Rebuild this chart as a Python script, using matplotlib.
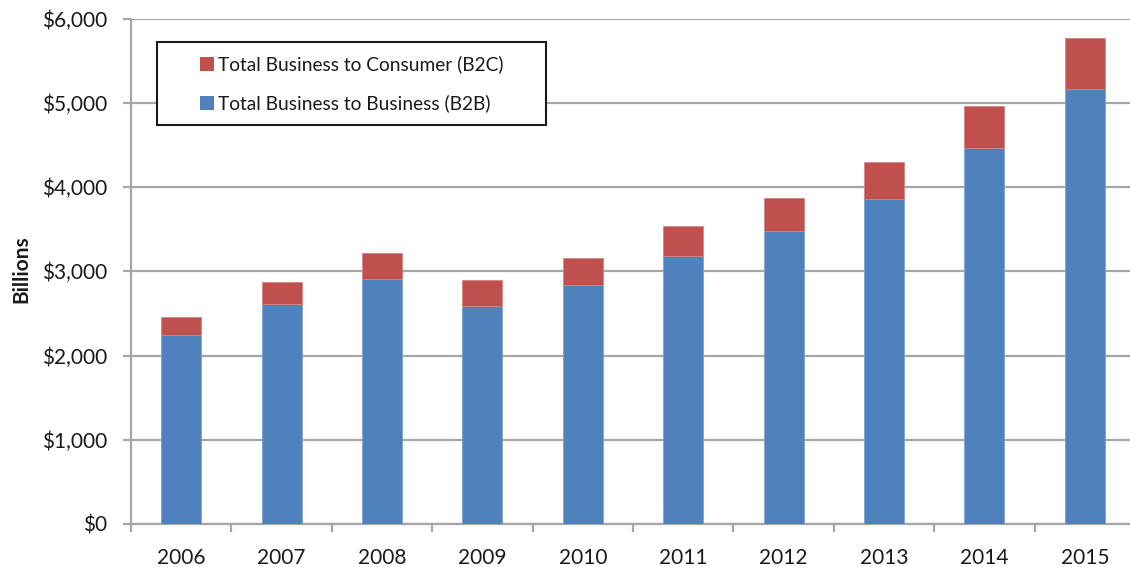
import matplotlib
matplotlib.use("Agg")
import matplotlib.pyplot as plt
from matplotlib.patches import Rectangle
from matplotlib.ticker import FuncFormatter, FixedLocator
import numpy as np

years = ["2006", "2007", "2008", "2009", "2010", "2011", "2012", "2013", "2014", "2015"]
b2b = [2243, 2608, 2908, 2591, 2837, 3181, 3478, 3854, 4459, 5160]
b2c = [218, 268, 305, 305, 316, 360, 395, 439, 502, 605]
yticks = [0, 1000, 2000, 3000, 4000, 5000, 6000]

BLUE = "#4F81BD"
RED = "#C0504D"
GRID = "#A6A6A6"

plt.rcParams["font.family"] = ["Lato", "DejaVu Sans"]

fig = plt.figure(figsize=(11.3, 5.67), dpi=100)
W, H = 1130, 567
ax = fig.add_axes([131 / W, 43 / H, (1135 - 131) / W, (524 - 18.5) / H])

x = np.arange(len(years))
ax.bar(x, b2b, width=0.4, color=BLUE, edgecolor="#7FA3D0", linewidth=0.6, zorder=3)
ax.bar(x, b2c, bottom=b2b, width=0.4, color=RED, edgecolor="#D48683", linewidth=0.6, zorder=3)

ax.set_xlim(-0.5, len(years) - 0.5)
ax.set_ylim(0, 6000)
ax.set_yticks(yticks)
ax.yaxis.set_major_formatter(FuncFormatter(lambda v, p: f"${v:,.0f}"))
ax.set_xticks(x)
ax.set_xticklabels(years)
ax.xaxis.set_minor_locator(FixedLocator(np.arange(len(years) + 1) - 0.5))

ax.grid(axis="y", color=GRID, linewidth=1.6, zorder=0)
ax.set_axisbelow(True)
for s in ["top", "right"]:
    ax.spines[s].set_visible(False)
for s in ["left", "bottom"]:
    ax.spines[s].set_color(GRID)
    ax.spines[s].set_linewidth(1.6)

ax.tick_params(axis="y", which="major", length=6, width=1.6, color=GRID,
               pad=11, labelsize=15, labelcolor="#1a1a1a")
ax.tick_params(axis="x", which="major", length=0, pad=17, labelsize=15,
               labelcolor="#1a1a1a")
ax.tick_params(axis="x", which="minor", length=6, width=1.6, color=GRID)

fig.text(21 / W, 1 - 269 / H, "Billions", rotation=90, ha="center", va="center",
         fontsize=15, fontweight="bold", color="#1a1a1a")

# legend box
fig.patches.append(Rectangle((157 / W, 1 - 125 / H), (546 - 157) / W, (125 - 42) / H,
                             transform=fig.transFigure, facecolor="white",
                             edgecolor="#1a1a1a", linewidth=1.5, zorder=5))
entries = [("Total Business to Consumer (B2C)", RED, 64),
           ("Total Business to Business (B2B)", BLUE, 103)]
for label, col, yc in entries:
    fig.patches.append(Rectangle((200 / W, 1 - (yc + 7) / H), 14 / W, 14 / H,
                                 transform=fig.transFigure, facecolor=col,
                                 edgecolor="none", zorder=6))
    fig.text(218 / W, 1 - yc / H, label, ha="left", va="center", fontsize=13.8,
             color="#1a1a1a", zorder=7)

fig.savefig("out.png", dpi=100, facecolor="white")
